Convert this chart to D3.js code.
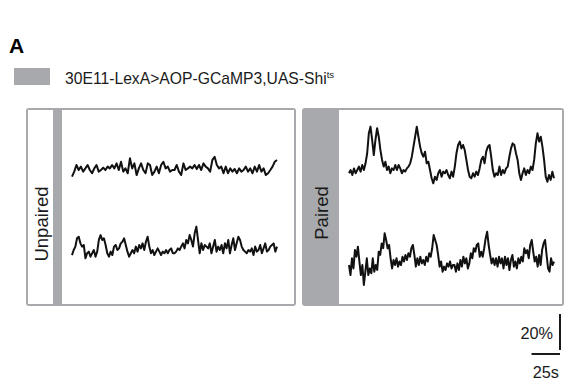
<!DOCTYPE html>
<html>
<head>
<meta charset="utf-8">
<script src="https://cdn.jsdelivr.net/npm/d3@7"></script>
<style>
  html, body { margin: 0; padding: 0; background: #fff; }
  svg { display: block; font-family: "Liberation Sans", Arial, sans-serif; }
</style>
</head>
<body>
<svg id="chart" width="572" height="383"></svg>
<script>
// GCaMP3 dF/F traces (%) sampled evenly over each recording
const recordingSeconds = 180;

const unpairedTop = [
  -2.6, 0.2, 3.9, 1.1, 3.0, 0.2, 2.0, 3.9, 1.1, -0.7, 2.0, 3.9, 0.2, 1.1, 2.4, 1.1,
  3.0, 2.0, 3.9, 2.0, 4.8, 1.1, 5.7, 0.2, 2.0, -0.7, 7.6, 2.0, 4.8, -1.7, 2.0, 4.8,
  1.1, -0.7, 4.8, 3.9, -1.7, 0.2, 3.0, -0.7, 3.9, 5.7, 2.0, 3.0, 0.2, 1.1,
  1.1, 3.9, 0.2, -1.7, 4.8, 1.1, 2.0, 3.0, 2.0, 3.9, 1.7, 3.9, 1.1, 4.8, 3.0, 2.0,
  0.2, 6.7, 8.5, 3.9, 2.0, 3.0, -0.7, 3.0, -0.7, 2.0, 0.2, 1.7, -0.7, 2.0, 0.2, 1.1,
  3.0, 0.2, 2.0, -0.7, 3.0, 0.2, 3.9, 0.2, 2.0, -1.7, -0.7, 1.1, 3.0, 5.7, 6.7
];

const unpairedBottom = [
  -1.7, 1.1, 3.0, 7.6, 8.5, 4.8, 3.0, 3.9, -3.5, -0.7, 0.2, -2.6, -0.7, 1.1, -2.6, 0.2,
  6.7, 9.4, 6.7, 7.6, 3.9, -0.7, -2.6, 0.2, -1.7, 3.0, 3.9, 1.1, 2.0, 4.8, 5.7, 7.6,
  3.9, 0.2, -2.6, -0.7, 1.1, -0.7, 3.0, 0.2, 3.9, 2.0, 4.8, 1.1, 5.7, 8.5, 3.0, -0.7,
  1.1, -1.7, 0.2, 2.0, 0.2, -1.7, 0.2, -0.7, 1.1, -0.7, 1.1, 2.0, -0.7,
  -0.7, 0.2, 2.0, 1.1, 3.0, 4.8, 2.0, 6.7, 4.8, 9.4, 6.7, 3.0, 10.4, 14.1, 6.7, -0.7,
  4.8, 1.1, 3.9, 3.0, 2.0, 4.8, -0.7, 3.0, 6.7, 0.2, 3.0, 1.1, 3.9, -0.7, 4.8, 2.0,
  6.7, -0.7, 3.9, 7.6, 1.1, 4.8, 8.5, 6.7, 3.0, 1.1, 0.2, -0.7, 1.1, 0.2, 2.0, -1.7,
  3.0, 0.2, 1.1, 3.9, -0.7, 2.0, 4.8, 0.2, 1.1, 3.0, 3.9, 4.8, 0.2, 3.0
];

const pairedTop = [
  -0.7, 1.1, -1.7, 2.0, -0.7, 1.1, 3.0, 0.2, 3.9, 1.1, 4.8, 10.4, 21.5, 25.2, 17.8, 9.4,
  17.8, 24.3, 19.6, 12.2, 6.7, 3.0, 5.7, 1.1, 3.0, -0.7, 2.0, 1.1, 3.9, 1.1, 3.9, 2.0,
  -0.7, 1.1, 0.2, 2.0, 3.0, 4.8, 8.5, 14.1, 19.6, 25.2, 19.6, 14.1, 10.4, 8.5, 11.3, 4.8,
  5.7, 1.1, -3.5, -6.3, -2.6, -4.4, -0.7, 1.1, -2.6, 0.2, -0.7,
  1.1, -1.7, -3.5, 0.2, -2.6, 3.0, 10.4, 15.0, 16.9, 13.1, 15.0, 12.2, 6.7, 1.1, -2.6, -3.5,
  -0.7, -2.6, 0.2, -1.7, 2.0, 6.7, 8.5, 4.8, 11.3, 14.1, 15.0, 8.5, 1.1, -2.6, -0.7, -1.7,
  3.0, -1.7, 1.1, -0.7, 2.0, 3.0, 8.5, 13.1, 15.9, 15.0, 10.4, 6.7, -0.7, -4.4, -0.7, 2.0,
  -1.7, 1.1, -0.7, 3.0, 1.1, 6.7, 15.9, 21.5, 16.9, 19.6, 14.1, 6.7, -2.6, -5.4, -1.7, -4.4,
  0.2, -3.5
];

const pairedBottom = [
  0, -5.6, 3.7, -1.9, 8.3, 4.6, 10.2, 1.9, -5.6, 0, -11.1, -3.7, 3.7, -5.6, -1.9, -4.6,
  3.7, -3.7, 0, -2.8, 7.4, 5.6, 12.0, 9.3, 17.6, 13.9, 9.3, 11.1, 3.7, -1.9, 2.8, 0,
  3.7, -0.9, 1.9, 0, 4.6, 1.9, 5.6, 2.8, 6.5, 4.6, 9.3, 11.1, 5.6, -0.9, 3.7, 0,
  4.6, 0.9, 2.8, 0, 4.6, 1.9, 6.5, 4.6, 9.3, 16.7, 13.9, 11.1, 5.6, -0.9, 1.9, -3.7,
  -0.9, -2.8, 0.9, -0.9, 1.9, -1.9, 0,
  0, -3.7, 0.9, -2.8, 2.8, -0.9, 4.6, 0.9, 3.7, -1.9, 0.9, 6.5, 3.7, 9.3, 7.4, 11.1,
  12.0, 4.6, 7.4, 4.6, 9.3, 14.8, 18.5, 11.1, 5.6, 0.9, 3.7, 0, 3.7, -0.9, 4.6, 0.9,
  3.7, -1.9, 4.6, 0, 3.7, -2.8, 2.8, 5.6, -0.9, 1.9, -1.9, 3.7, 0.9, 4.6, 1.9, 9.3,
  6.5, 8.3, 3.7, 11.1, 13.9, 7.4, 1.9, 4.6, -0.9, 5.6, 0, 8.3, 12.0, 13.9, 5.6, -1.9,
  -3.7, 3.7, 0, 1.9
];

const conditionLabels = ["Unpaired", "Paired"];
const genotypeLabel = "30E11-LexA>AOP-GCaMP3,UAS-Shi";
const genotypeSuperscript = "ts";
const panelLetter = "A";
const scaleBarPercent = 20;
const scaleBarSeconds = 25;
const scaleBarPercentLabel = "20%";
const scaleBarSecondsLabel = "25s";

// ---- layout ----
const GRAY = "#a7a9ac";
const TEXT = "#1a1a1a";
const pxPerSecond = 205 / recordingSeconds;
const pxPerPercent = 1.8;

const svg = d3.select("#chart");

svg.append("text")
  .attr("x", 9).attr("y", 53)
  .attr("font-size", 21).attr("font-weight", "bold")
  .attr("fill", "#000")
  .text(panelLetter);

// legend swatch + genotype
svg.append("rect")
  .attr("x", 14).attr("y", 68).attr("width", 36).attr("height", 17)
  .attr("fill", GRAY);
const legendText = svg.append("text")
  .attr("x", 65).attr("y", 84)
  .attr("font-size", 15.7).attr("fill", TEXT);
legendText.append("tspan").text(genotypeLabel);
legendText.append("tspan").attr("font-size", 9.5).attr("dy", -6).text(genotypeSuperscript);

// panel frames
const panels = [
  { label: conditionLabels[0], x: 26, w: 270, labelW: 26, strip: 8, grayLabel: false,
    labelY: 224, traceX: 72, traces: [unpairedTop, unpairedBottom], base: [172, 252] },
  { label: conditionLabels[1], x: 302, w: 262, labelW: 0, strip: 35, grayLabel: true,
    labelY: 213, traceX: 349, traces: [pairedTop, pairedBottom], base: [172, 265] }
];
const panelTop = 108, panelH = 198, inset = 2;

panels.forEach(p => {
  const g = svg.append("g");
  g.append("rect")
    .attr("x", p.x).attr("y", panelTop).attr("width", p.w).attr("height", panelH)
    .attr("rx", 3).attr("fill", GRAY);
  const innerX = p.x + inset + p.labelW + p.strip;
  if (!p.grayLabel) {
    g.append("rect")
      .attr("x", p.x + inset).attr("y", panelTop + inset)
      .attr("width", p.labelW - 1).attr("height", panelH - 2 * inset)
      .attr("fill", "#fff");
  }
  g.append("rect")
    .attr("x", innerX).attr("y", panelTop + inset)
    .attr("width", p.x + p.w - inset - innerX).attr("height", panelH - 2 * inset)
    .attr("fill", "#fff");

  const labelCx = p.grayLabel ? p.x + inset + p.strip / 2 : p.x + inset + p.labelW / 2;
  g.append("text")
    .attr("transform", `translate(${labelCx + 6.5},${p.labelY}) rotate(-90)`)
    .attr("text-anchor", "middle")
    .attr("font-size", 18.5).attr("fill", TEXT)
    .text(p.label);

  p.traces.forEach((values, k) => {
    const x = d3.scaleLinear()
      .domain([0, recordingSeconds])
      .range([p.traceX, p.traceX + recordingSeconds * pxPerSecond]);
    const y = d3.scaleLinear()
      .domain([0, scaleBarPercent])
      .range([p.base[k], p.base[k] - scaleBarPercent * pxPerPercent]);
    const dt = recordingSeconds / (values.length - 1);
    const line = d3.line()
      .x((d, i) => x(i * dt))
      .y(d => y(d));
    g.append("path")
      .datum(values)
      .attr("d", line)
      .attr("fill", "none")
      .attr("stroke", "#111")
      .attr("stroke-width", 2)
      .attr("stroke-linejoin", "round");
  });
});

// scale bars
const barX = d3.scaleLinear().domain([0, scaleBarSeconds])
  .range([560 - scaleBarSeconds * pxPerSecond, 560]);
const barY = d3.scaleLinear().domain([0, scaleBarPercent])
  .range([350, 350 - scaleBarPercent * pxPerPercent]);

svg.append("line")
  .attr("x1", 560).attr("x2", 560)
  .attr("y1", barY(0)).attr("y2", barY(scaleBarPercent))
  .attr("stroke", "#000").attr("stroke-width", 1.8);
svg.append("line")
  .attr("x1", barX(0)).attr("x2", barX(scaleBarSeconds))
  .attr("y1", 354).attr("y2", 354)
  .attr("stroke", "#000").attr("stroke-width", 1.8);
svg.append("text")
  .attr("x", 553).attr("y", 339).attr("text-anchor", "end")
  .attr("font-size", 16.3).attr("fill", TEXT)
  .text(scaleBarPercentLabel);
svg.append("text")
  .attr("x", (barX(0) + barX(scaleBarSeconds)) / 2).attr("y", 378)
  .attr("text-anchor", "middle")
  .attr("font-size", 16.3).attr("fill", TEXT)
  .text(scaleBarSecondsLabel);
</script>
</body>
</html>
